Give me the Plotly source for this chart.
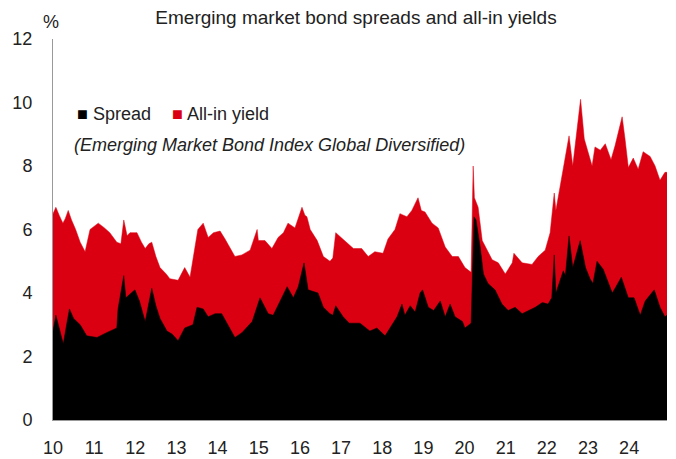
import plotly.graph_objects as go

yield_t = [2010.00, 2010.07, 2010.15, 2010.24, 2010.30, 2010.37, 2010.45, 2010.55, 2010.66, 2010.78,
           2010.90, 2011.10, 2011.25, 2011.38, 2011.55, 2011.65, 2011.72, 2011.80, 2011.87, 2012.04,
           2012.15, 2012.24, 2012.33, 2012.40, 2012.50, 2012.60, 2012.75, 2012.84, 2013.04, 2013.20,
           2013.33, 2013.45, 2013.52, 2013.65, 2013.77, 2013.90, 2014.06, 2014.18, 2014.30, 2014.42,
           2014.59, 2014.79, 2014.96, 2014.99, 2015.15, 2015.32, 2015.47, 2015.60, 2015.71, 2015.88,
           2016.05, 2016.12, 2016.17, 2016.25, 2016.42, 2016.57, 2016.73, 2016.80, 2016.87, 2017.05,
           2017.30, 2017.50, 2017.66, 2017.82, 2018.02, 2018.14, 2018.31, 2018.43, 2018.60, 2018.72,
           2018.87, 2018.95, 2019.04, 2019.21, 2019.36, 2019.53, 2019.70, 2019.85, 2020.01, 2020.16,
           2020.21, 2020.24, 2020.33, 2020.43, 2020.55, 2020.67, 2020.82, 2020.99, 2021.16, 2021.20,
           2021.40, 2021.64, 2021.79, 2021.96, 2022.08, 2022.18, 2022.22, 2022.37, 2022.49, 2022.54,
           2022.63, 2022.74, 2022.82, 2022.91, 2023.00, 2023.10, 2023.17, 2023.30, 2023.42, 2023.56,
           2023.66, 2023.83, 2023.90, 2023.98, 2024.10, 2024.22, 2024.34, 2024.51, 2024.63, 2024.75,
           2024.87, 2024.92]
yield_v = [6.5, 6.7, 6.45, 6.2, 6.35, 6.6, 6.3, 6.0, 5.6, 5.3,
           6.0, 6.2, 6.05, 5.9, 5.6, 5.55, 6.3, 5.8, 5.9, 5.9,
           5.6, 5.4, 5.55, 5.6, 5.15, 4.8, 4.6, 4.45, 4.4, 4.8,
           4.5, 5.45, 6.0, 6.2, 5.75, 5.9, 5.95, 5.7, 5.4, 5.15,
           5.2, 5.35, 6.0, 5.65, 5.65, 5.4, 5.75, 5.9, 6.2, 6.05,
           6.7, 6.45, 6.4, 6.0, 5.65, 5.15, 5.0, 5.1, 5.9, 5.7,
           5.4, 5.4, 5.15, 5.3, 5.25, 5.7, 6.0, 6.5, 6.4, 6.6,
           7.0, 6.6, 6.55, 6.2, 6.05, 5.45, 5.15, 5.15, 4.8, 4.65,
           8.0, 7.0, 6.7, 5.65, 5.35, 5.05, 4.95, 4.6, 4.95, 5.25,
           4.95, 4.9, 5.15, 5.35, 5.9, 7.15, 6.6, 7.65, 8.5, 8.95,
           8.0, 9.15, 10.1, 8.85, 8.45, 8.0, 8.6, 8.5, 8.7, 8.2,
           8.65, 9.55, 8.85, 7.95, 8.25, 7.9, 8.45, 8.3, 8.0, 7.55,
           7.8, 7.8]

spread_t = [2010.00, 2010.07, 2010.15, 2010.25, 2010.33, 2010.40, 2010.50, 2010.66, 2010.82, 2011.07,
            2011.30, 2011.55, 2011.58, 2011.72, 2011.77, 2011.99, 2012.10, 2012.24, 2012.40, 2012.50,
            2012.60, 2012.77, 2012.90, 2013.04, 2013.20, 2013.40, 2013.50, 2013.65, 2013.77, 2013.94,
            2014.10, 2014.23, 2014.42, 2014.59, 2014.84, 2015.03, 2015.23, 2015.35, 2015.52, 2015.69,
            2015.84, 2015.96, 2016.10, 2016.20, 2016.44, 2016.57, 2016.73, 2016.80, 2016.87, 2017.05,
            2017.20, 2017.46, 2017.70, 2017.87, 2018.07, 2018.19, 2018.36, 2018.48, 2018.55, 2018.68,
            2018.80, 2018.92, 2018.98, 2019.12, 2019.25, 2019.41, 2019.53, 2019.65, 2019.77, 2019.95,
            2020.01, 2020.16, 2020.23, 2020.28, 2020.38, 2020.46, 2020.57, 2020.74, 2020.91, 2021.06,
            2021.23, 2021.40, 2021.55, 2021.72, 2021.89, 2022.03, 2022.12, 2022.18, 2022.22, 2022.40,
            2022.45, 2022.54, 2022.63, 2022.81, 2022.94, 2023.05, 2023.12, 2023.22, 2023.37, 2023.59,
            2023.68, 2023.81, 2023.98, 2024.12, 2024.27, 2024.39, 2024.61, 2024.75, 2024.87, 2024.92]
spread_v = [2.8, 3.3, 2.9, 2.4, 3.0, 3.5, 3.2, 3.0, 2.65, 2.6,
            2.75, 2.9, 3.5, 4.55, 3.85, 4.1, 3.75, 3.1, 4.15, 3.6,
            3.2, 2.8, 2.7, 2.5, 2.9, 3.0, 3.55, 3.5, 3.25, 3.35,
            3.35, 3.05, 2.6, 2.75, 3.1, 3.85, 3.35, 3.3, 3.75, 4.2,
            3.85, 4.2, 4.95, 4.1, 4.0, 3.55, 3.35, 3.3, 3.6, 3.25,
            3.05, 3.05, 2.8, 2.9, 2.65, 2.9, 3.25, 3.65, 3.3, 3.6,
            3.4, 4.0, 4.1, 3.55, 3.45, 3.75, 3.25, 3.65, 3.25, 3.1,
            2.9, 3.05, 6.4, 6.3, 5.45, 4.6, 4.3, 4.1, 3.65, 3.45,
            3.55, 3.35, 3.45, 3.55, 3.7, 3.65, 3.85, 5.2, 4.0, 4.7,
            4.55, 5.8, 4.8, 5.65, 4.8, 4.45, 4.3, 5.0, 4.75, 4.0,
            4.2, 4.5, 3.85, 3.85, 3.3, 3.75, 4.1, 3.55, 3.25, 3.3]

year_ticks = list(range(2010, 2025))
year_labels = [f"{y % 100:02d}" for y in year_ticks]

RED = "#DB0011"
FONT = "Liberation Sans, Arial, sans-serif"
TXT = "#222222"

fig = go.Figure()
fig.add_trace(go.Scatter(x=yield_t, y=yield_v, mode="lines", fill="tozeroy",
                         line=dict(color=RED, width=0.5), fillcolor=RED,
                         name="All-in yield", showlegend=False, hoverinfo="skip"))
fig.add_trace(go.Scatter(x=spread_t, y=spread_v, mode="lines", fill="tozeroy",
                         line=dict(color="#000000", width=0.5), fillcolor="#000000",
                         name="Spread", showlegend=False, hoverinfo="skip"))

fig.update_layout(
    width=676, height=459,
    margin=dict(l=53, r=9, t=39, b=39),
    paper_bgcolor="white", plot_bgcolor="white",
    font=dict(family=FONT, size=18, color=TXT),
    showlegend=False,
    title=dict(text="Emerging market bond spreads and all-in yields",
               x=356 / 676, xanchor="center", y=1 - 17 / 459, yanchor="middle",
               font=dict(family=FONT, size=19, color=TXT)),
)
fig.update_xaxes(range=[2010, 2024.92], tickvals=year_ticks, ticktext=year_labels,
                 showgrid=False, zeroline=False, showline=True, linecolor="#999999",
                 linewidth=1, ticks="", ticklabelstandoff=11, automargin=False,
                 tickfont=dict(family=FONT, size=18, color=TXT))
fig.update_yaxes(range=[0, 12], dtick=2, showgrid=False, zeroline=False,
                 showline=True, linecolor="#999999", linewidth=1, ticks="",
                 ticklabelstandoff=16, automargin=False,
                 tickfont=dict(family=FONT, size=18, color=TXT))

fig.add_annotation(text="%", xref="paper", yref="paper", x=-2 / 614, y=1 + 17 / 381,
                   xanchor="center", yanchor="middle", showarrow=False,
                   font=dict(family=FONT, size=18, color=TXT))
fig.add_annotation(text="<span style='color:#000000'>■</span> Spread", xref="paper", yref="paper",
                   x=22 / 614, y=1 - 75 / 381, xanchor="left", yanchor="middle", showarrow=False,
                   font=dict(family=FONT, size=18, color=TXT))
fig.add_annotation(text=f"<span style='color:{RED}'>■</span> All-in yield", xref="paper", yref="paper",
                   x=117 / 614, y=1 - 75 / 381, xanchor="left", yanchor="middle", showarrow=False,
                   font=dict(family=FONT, size=18, color=TXT))
fig.add_annotation(text="<i>(Emerging Market Bond Index Global Diversified)</i>", xref="paper", yref="paper",
                   x=19 / 614, y=1 - 106 / 381, xanchor="left", yanchor="middle", showarrow=False,
                   font=dict(family=FONT, size=18, color=TXT))

fig.write_html("out.html", config={"displayModeBar": False},
               post_script="document.body.style.margin='0';document.body.style.overflow='hidden';")
